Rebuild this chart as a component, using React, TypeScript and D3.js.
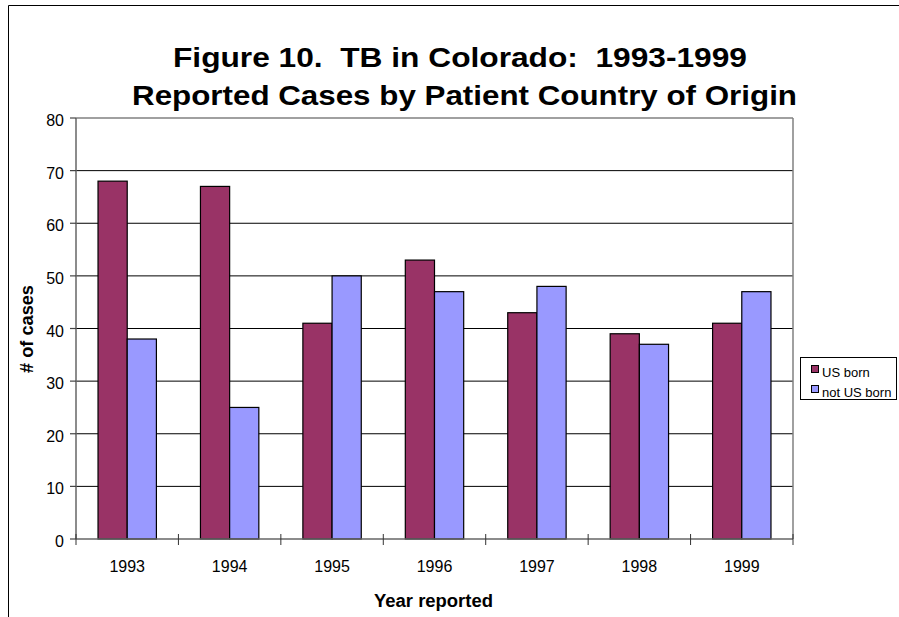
import React from "react";
import { scaleBand, scaleLinear, range } from "d3";

const years = ["1993", "1994", "1995", "1996", "1997", "1998", "1999"];
const usBorn = [68, 67, 41, 53, 43, 39, 41];
const notUsBorn = [38, 25, 50, 47, 48, 37, 47];
const seriesNames = ["US born", "not US born"];
const seriesColors = ["#993366", "#9999FF"];
const yTicks = [0, 10, 20, 30, 40, 50, 60, 70, 80];

const font = "Arial, 'Liberation Sans', sans-serif";

export default function App() {
  const left = 76;
  const right = 793;
  const top = 118;
  const bottom = 539;

  const x = scaleBand<string>()
    .domain(years)
    .range([left, right])
    .paddingInner(0.43)
    .paddingOuter(0.215);
  const inner = scaleBand<number>()
    .domain([0, 1])
    .range([0, x.bandwidth()]);
  const y = scaleLinear().domain([0, 80]).range([bottom, top]);
  const step = (right - left) / years.length;
  const series = [usBorn, notUsBorn];

  return (
    <svg
      width={899}
      height={617}
      style={{ position: "absolute", left: 0, top: 0, background: "#fff" }}
      fontFamily={font}
    >
      {/* outer frame */}
      <path d="M8.5,617 V5.5 H899" fill="none" stroke="#000" strokeWidth={1} />

      <text x={460} y={67} textAnchor="middle" fontSize={28} fontWeight="bold"
        textLength={574} lengthAdjust="spacingAndGlyphs" style={{ whiteSpace: "pre" }}>
        {"Figure 10.  TB in Colorado:  1993-1999"}
      </text>
      <text x={464.5} y={105} textAnchor="middle" fontSize={28} fontWeight="bold"
        textLength={665} lengthAdjust="spacingAndGlyphs">
        Reported Cases by Patient Country of Origin
      </text>

      {/* gridlines */}
      {yTicks.filter((t) => t > 0 && t < 80).map((t) => (
        <line key={t} x1={left} x2={right} y1={y(t)} y2={y(t)} stroke="#000" strokeWidth={1} />
      ))}
      <line x1={left} x2={right} y1={top} y2={top} stroke="#808080" strokeWidth={1.5} />
      <line x1={right} x2={right} y1={top} y2={bottom} stroke="#808080" strokeWidth={1.5} />

      {/* bars */}
      {years.map((yr, i) =>
        series.map((s, k) => (
          <rect
            key={yr + k}
            x={x(yr)! + inner(k)!}
            y={y(s[i])}
            width={inner.bandwidth()}
            height={bottom - y(s[i])}
            fill={seriesColors[k]}
            stroke="#000"
            strokeWidth={1.2}
          />
        ))
      )}

      {/* y axis */}
      <line x1={left} x2={left} y1={top} y2={bottom} stroke="#666" strokeWidth={1.5} />
      {yTicks.map((t) => (
        <g key={t}>
          <line x1={left - 6} x2={left} y1={y(t)} y2={y(t)} stroke="#444" strokeWidth={1.2} />
          <text x={left - 12} y={y(t) + 8} textAnchor="end" fontSize={16}>
            {t}
          </text>
        </g>
      ))}

      {/* x axis */}
      <line x1={left} x2={right} y1={bottom} y2={bottom} stroke="#666" strokeWidth={1.5} />
      {range(years.length + 1).map((i) => (
        <line key={i} x1={left + i * step} x2={left + i * step} y1={bottom - 5} y2={bottom + 6} stroke="#333" strokeWidth={1} />
      ))}
      {years.map((yr) => (
        <text key={yr} x={x(yr)! + x.bandwidth() / 2} y={572} textAnchor="middle" fontSize={16}>
          {yr}
        </text>
      ))}

      <text x={433.5} y={607} textAnchor="middle" fontSize={18} fontWeight="bold"
        textLength={119} lengthAdjust="spacingAndGlyphs">
        Year reported
      </text>
      <text transform="translate(33,329) rotate(-90)" textAnchor="middle" fontSize={18} fontWeight="bold"
        textLength={88} lengthAdjust="spacingAndGlyphs">
        # of cases
      </text>

      {/* legend */}
      <rect x={800.5} y={357.5} width={96} height={42} fill="#fff" stroke="#000" strokeWidth={1} />
      {seriesNames.map((n, k) => (
        <g key={n}>
          <rect x={811.5} y={365.5 + k * 20} width={7} height={7} fill={seriesColors[k]} stroke="#000" strokeWidth={1} />
          <text x={822} y={377 + k * 20} fontSize={13}>
            {n}
          </text>
        </g>
      ))}
    </svg>
  );
}
